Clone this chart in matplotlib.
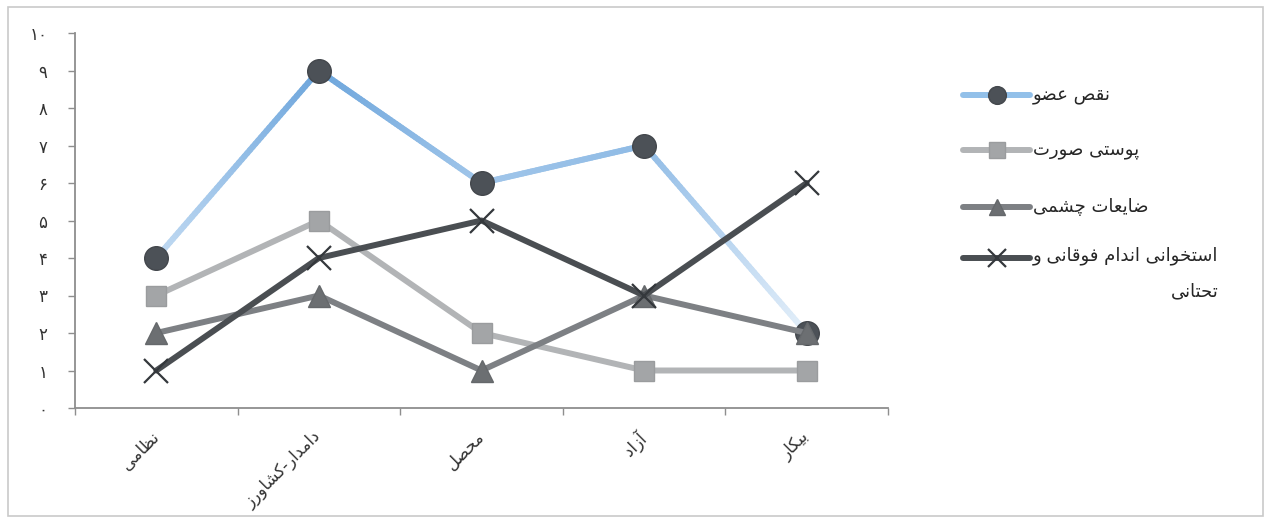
import numpy as np
import matplotlib
matplotlib.use("Agg")
import matplotlib.pyplot as plt
from matplotlib.collections import LineCollection
from matplotlib.colors import LinearSegmentedColormap
from matplotlib.lines import Line2D
from matplotlib.patches import Rectangle
import matplotlib.transforms as mtransforms

# ---------------------------------------------------------------- data
categories = ["نظامی", "دامدار-کشاورز", "محصل", "آزاد", "بیکار"]
series_names = ["نقص عضو", "پوستی صورت", "ضایعات چشمی",
                "استخوانی اندام فوقانی و تحتانی"]
limb_loss = [4, 9, 6, 7, 2]
facial_skin = [3, 5, 2, 1, 1]
eye_injury = [2, 3, 1, 3, 2]
bone_limbs = [1, 4, 5, 3, 6]
y_ticks = list(range(11))
y_tick_labels = ["۰", "۱", "۲", "۳", "۴", "۵", "۶", "۷", "۸", "۹", "۱۰"]

# ------------------------------------------------ minimal Persian shaping
DUAL = set("بپتثجچحخسشصضطظعغفقکگلمنهی")
RIGHT = set("اآدذرزژو")
FORMS = {
    "ا": (0xFE8D, 0xFE8E), "آ": (0xFE81, 0xFE82),
    "د": (0xFEA9, 0xFEAA), "ذ": (0xFEAB, 0xFEAC),
    "ر": (0xFEAD, 0xFEAE), "ز": (0xFEAF, 0xFEB0),
    "ژ": (0xFB8A, 0xFB8B), "و": (0xFEED, 0xFEEE),
    "ب": (0xFE8F, 0xFE90, 0xFE91, 0xFE92),
    "پ": (0xFB56, 0xFB57, 0xFB58, 0xFB59),
    "ت": (0xFE95, 0xFE96, 0xFE97, 0xFE98),
    "ث": (0xFE99, 0xFE9A, 0xFE9B, 0xFE9C),
    "ج": (0xFE9D, 0xFE9E, 0xFE9F, 0xFEA0),
    "چ": (0xFB7A, 0xFB7B, 0xFB7C, 0xFB7D),
    "ح": (0xFEA1, 0xFEA2, 0xFEA3, 0xFEA4),
    "خ": (0xFEA5, 0xFEA6, 0xFEA7, 0xFEA8),
    "س": (0xFEB1, 0xFEB2, 0xFEB3, 0xFEB4),
    "ش": (0xFEB5, 0xFEB6, 0xFEB7, 0xFEB8),
    "ص": (0xFEB9, 0xFEBA, 0xFEBB, 0xFEBC),
    "ض": (0xFEBD, 0xFEBE, 0xFEBF, 0xFEC0),
    "ط": (0xFEC1, 0xFEC2, 0xFEC3, 0xFEC4),
    "ظ": (0xFEC5, 0xFEC6, 0xFEC7, 0xFEC8),
    "ع": (0xFEC9, 0xFECA, 0xFECB, 0xFECC),
    "غ": (0xFECD, 0xFECE, 0xFECF, 0xFED0),
    "ف": (0xFED1, 0xFED2, 0xFED3, 0xFED4),
    "ق": (0xFED5, 0xFED6, 0xFED7, 0xFED8),
    "ک": (0xFB8E, 0xFB8F, 0xFB90, 0xFB91),
    "گ": (0xFB92, 0xFB93, 0xFB94, 0xFB95),
    "ل": (0xFEDD, 0xFEDE, 0xFEDF, 0xFEE0),
    "م": (0xFEE1, 0xFEE2, 0xFEE3, 0xFEE4),
    "ن": (0xFEE5, 0xFEE6, 0xFEE7, 0xFEE8),
    "ه": (0xFEE9, 0xFEEA, 0xFEEB, 0xFEEC),
    "ی": (0xFBFC, 0xFBFD, 0xFBFE, 0xFBFF),
}


def shape(text):
    """Join Persian letters into contextual forms and order them for LTR drawing."""
    out = []
    n = len(text)
    for i, ch in enumerate(text):
        if ch not in FORMS:
            out.append(ch)
            continue
        prev = text[i - 1] if i > 0 else ""
        nxt = text[i + 1] if i < n - 1 else ""
        join_prev = prev in DUAL
        forms = FORMS[ch]
        if ch in DUAL:
            join_next = nxt in DUAL or nxt in RIGHT
            if join_prev and join_next:
                code = forms[3]
            elif join_prev:
                code = forms[1]
            elif join_next:
                code = forms[2]
            else:
                code = forms[0]
        else:
            code = forms[1] if join_prev else forms[0]
        out.append(chr(code))
    return "".join(reversed(out))


plt.rcParams["font.family"] = ["DejaVu Sans"]

# ---------------------------------------------------------------- figure
W, H = 1271, 523
fig = plt.figure(figsize=(W / 100, H / 100), dpi=100)
fig.patch.set_facecolor("white")

# outer chart-area border
fig.add_artist(Rectangle((8 / W, 7 / H), 1255 / W, 509 / H,
                         transform=fig.transFigure, fill=False,
                         edgecolor="#c9c9c9", linewidth=1.2))

ax = fig.add_axes([75 / W, (H - 408) / H, (888 - 75) / W, (408 - 33) / H])
ax.set_facecolor("none")

x = np.arange(len(categories)) + 0.5
ax.set_xlim(0, len(categories))
ax.set_ylim(0, 10)

styles = [
    dict(data=limb_loss, line=None, marker="o", ms=17, mfc="#4c5157",
         mec="#43474c", mew=1.0),
    dict(data=facial_skin, line="#b2b4b6", marker="s", ms=15, mfc="#a3a5a7",
         mec="#9a9c9e", mew=1.0),
    dict(data=eye_injury, line="#7d8084", marker="^", ms=16, mfc="#6c6f72",
         mec="#65686b", mew=1.0),
    dict(data=bone_limbs, line="#4a4e52", marker="x", ms=17, mfc="#34383c",
         mec="#34383c", mew=1.6),
]
LW = 4.3

# blue series: vertical gradient along the line
blue_cmap = LinearSegmentedColormap.from_list(
    "blue_fade", ["#e2eef9", "#a9cbec", "#6ea6dc"])
for k, st in enumerate(styles):
    ys = np.asarray(st["data"], dtype=float)
    if st["line"] is None:
        segs, vals = [], []
        for i in range(len(x) - 1):
            t = np.linspace(0, 1, 60)
            px = x[i] + (x[i + 1] - x[i]) * t
            py = ys[i] + (ys[i + 1] - ys[i]) * t
            pts = np.column_stack([px, py])
            for j in range(len(t) - 1):
                segs.append(pts[j:j + 2])
                vals.append((py[j] + py[j + 1]) / 2)
        lc = LineCollection(segs, cmap=blue_cmap, linewidths=LW,
                            capstyle="round", zorder=2 + k)
        lc.set_array(np.clip((np.array(vals) - 1.5) / 7.5, 0, 1))
        ax.add_collection(lc)
    else:
        ax.plot(x, ys, color=st["line"], lw=LW, solid_capstyle="round",
                solid_joinstyle="round", zorder=2 + k)
    ax.plot(x, ys, linestyle="none", marker=st["marker"], ms=st["ms"],
            mfc=st["mfc"], mec=st["mec"], mew=st["mew"], zorder=2.5 + k)

# axes styling
for side in ("top", "right"):
    ax.spines[side].set_visible(False)
for side in ("left", "bottom"):
    ax.spines[side].set_color("#8e8e8e")
    ax.spines[side].set_linewidth(1.3)

ax.set_yticks(y_ticks)
ax.set_yticklabels(y_tick_labels)
ax.tick_params(axis="y", direction="out", length=5, width=1.0,
               color="#8e8e8e", pad=15, labelsize=12, labelcolor="#333333")

ax.set_xticks(np.arange(len(categories) + 1))
ax.set_xticklabels([])
ax.tick_params(axis="x", which="major", direction="out", length=5,
               width=1.0, color="#8e8e8e")
ax.set_xticks(x, minor=True)
ax.set_xticklabels([shape(c) for c in categories], minor=True)
ax.tick_params(axis="x", which="minor", length=0, pad=14, labelsize=12,
               labelcolor="#333333")
shift = mtransforms.ScaledTranslation(6 / 100, 0, fig.dpi_scale_trans)
for lab in ax.get_xticklabels(minor=True):
    lab.set_rotation(45)
    lab.set_ha("right")
    lab.set_va("top")
    lab.set_transform(lab.get_transform() + shift)

# legend on the right
leg_y = [95, 150, 207, 258]
for st, name, yy in zip(styles, series_names, leg_y):
    fy = (H - yy) / H
    lcol = st["line"] if st["line"] is not None else "#92c0e9"
    fig.add_artist(Line2D([963 / W, 1030 / W], [fy, fy],
                          transform=fig.transFigure, color=lcol, lw=LW,
                          solid_capstyle="round"))
    fig.add_artist(Line2D([997 / W], [fy], transform=fig.transFigure,
                          linestyle="none", marker=st["marker"],
                          ms=st["ms"] * 0.75, mfc=st["mfc"], mec=st["mec"],
                          mew=st["mew"]))

for name, yy in zip(series_names[:3], leg_y[:3]):
    fig.text(1033 / W, (H - yy) / H, shape(name), ha="left", va="center",
             fontsize=13, color="#262626")

# long label wraps onto a second, right-aligned line
words = series_names[3].split(" ")
first = " ".join(words[:-1])
second = words[-1]
fig.text(1033 / W, (H - 246) / H, shape(first) + "\n" + shape(second),
         ha="left", va="top", multialignment="right", linespacing=2.25,
         fontsize=13, color="#262626")

fig.savefig("out.png", dpi=100, facecolor="white")
